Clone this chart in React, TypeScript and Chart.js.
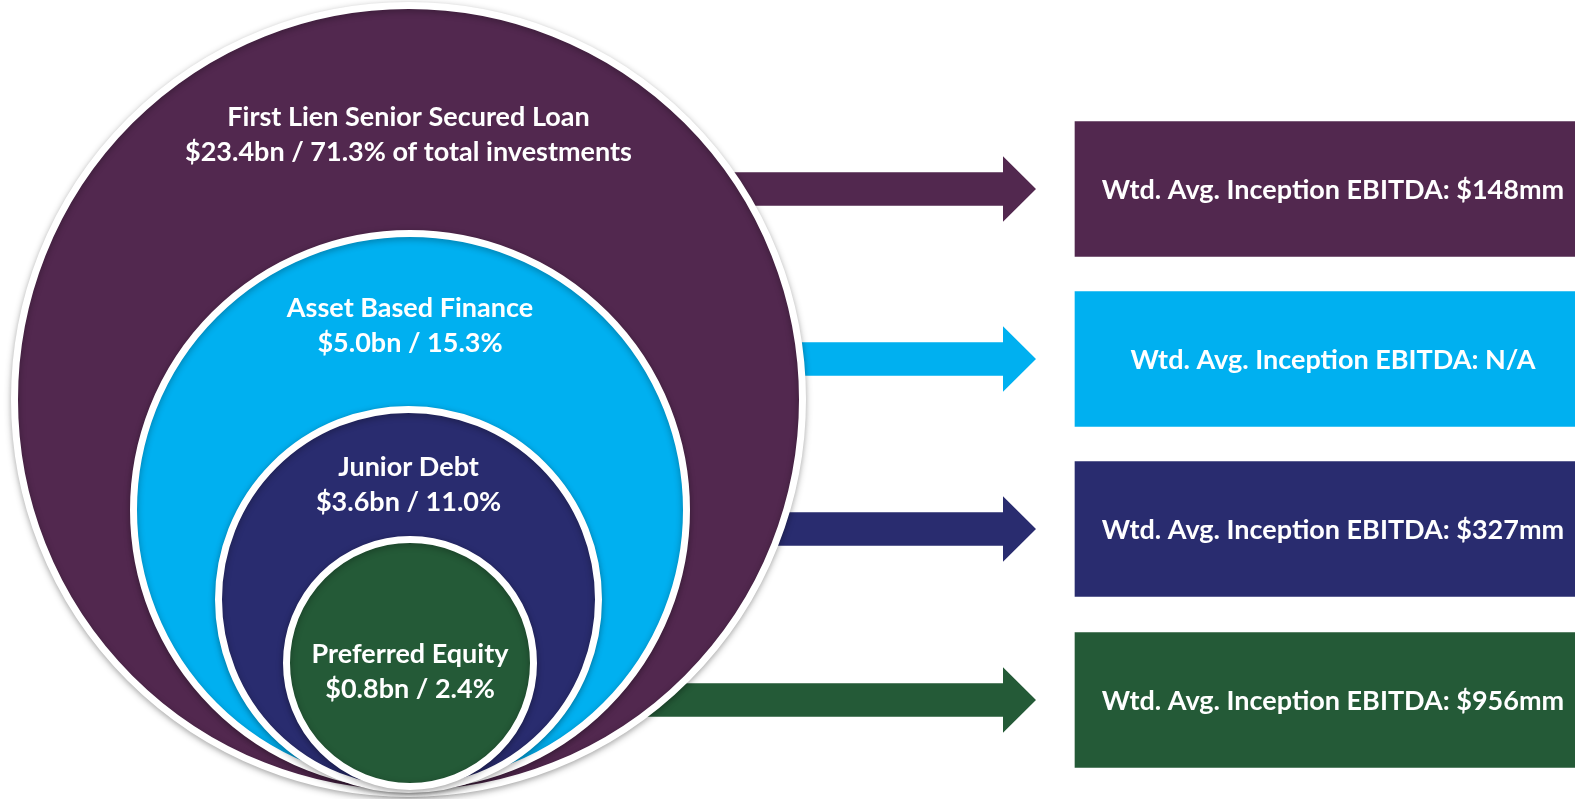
import React, { useEffect, useRef } from 'react';
import { Chart, registerables } from 'chart.js';

Chart.register(...registerables);

// ---- data ----
const CATEGORIES = ['First Lien Senior Secured Loan', 'Asset Based Finance', 'Junior Debt', 'Preferred Equity'];
const AMOUNT_BN = [23.4, 5.0, 3.6, 0.8];
const SHARE_PCT = [71.3, 15.3, 11.0, 2.4];
const SHARE_SUFFIX = [' of total investments', '', '', ''];
const EBITDA_MM: (number | null)[] = [148, null, 327, 956];
const EBITDA_PREFIX = 'Wtd. Avg. Inception EBITDA: ';
const COLORS = ['#52284F', '#00B0F0', '#292C6F', '#245A37'];

// ---- layout (chart units: x 0..1575 left→right, y 0..799 top→bottom) ----
const X_MAX = 1575;
const Y_MAX = 799;
const CIRCLE_CX = [408.5, 410, 408.5, 410];
const CIRCLE_CY = [399.5, 510, 599.5, 663];
const CIRCLE_R = [390.5, 273, 186.5, 120];
const CIRCLE_BORDER = 7;
const LABEL_BASELINE = [126, 316.7, 476, 663.3];
const LABEL_GAP = 35;
const ROW_Y = [189, 359, 529, 700];
const BOX_RANGE = [1075, 1591];
const BOX_H = 135;
const ARROW_START = 600;
const ARROW_HEAD_BASE = 1003;
const ARROW_TIP = 1036;
const ARROW_SHAFT_HALF = 16.7;
const ARROW_HEAD_HALF = 32.8;

const CIRCLE_FONT = 'bold 27px Lato';
const BOX_FONT = 'bold 27px Lato';

const amountLabel = (i: number) =>
  `$${AMOUNT_BN[i].toFixed(1)}bn / ${SHARE_PCT[i].toFixed(1)}%${SHARE_SUFFIX[i]}`;
const ebitdaLabel = (i: number) =>
  EBITDA_PREFIX + (EBITDA_MM[i] == null ? 'N/A' : `$${EBITDA_MM[i]}mm`);

const arrowsPlugin = {
  id: 'arrows',
  beforeDatasetsDraw(chart: any) {
    const { ctx, scales } = chart;
    const xs = scales.x;
    const ys = scales.y;
    ROW_Y.forEach((yv, i) => {
      const y0 = ys.getPixelForValue(yv);
      const sh = Math.abs(ys.getPixelForValue(yv + ARROW_SHAFT_HALF) - y0);
      const hh = Math.abs(ys.getPixelForValue(yv + ARROW_HEAD_HALF) - y0);
      const xs0 = xs.getPixelForValue(ARROW_START);
      const xb = xs.getPixelForValue(ARROW_HEAD_BASE);
      const xt = xs.getPixelForValue(ARROW_TIP);
      ctx.save();
      ctx.fillStyle = COLORS[i];
      ctx.beginPath();
      ctx.moveTo(xs0, y0 - sh);
      ctx.lineTo(xb, y0 - sh);
      ctx.lineTo(xb, y0 - hh);
      ctx.lineTo(xt, y0);
      ctx.lineTo(xb, y0 + hh);
      ctx.lineTo(xb, y0 + sh);
      ctx.lineTo(xs0, y0 + sh);
      ctx.closePath();
      ctx.fill();
      ctx.restore();
    });
  },
};

const shadowPlugin = {
  id: 'circleShadow',
  beforeDatasetDraw(chart: any, args: any) {
    if (args.meta.type !== 'bubble') return;
    const ctx = chart.ctx;
    ctx.save();
    ctx.shadowColor = 'rgba(0,0,0,0.30)';
    ctx.shadowBlur = 7;
    ctx.shadowOffsetX = 0;
    ctx.shadowOffsetY = 2;
  },
  afterDatasetDraw(chart: any, args: any) {
    if (args.meta.type !== 'bubble') return;
    chart.ctx.restore();
  },
};

const labelsPlugin = {
  id: 'labels',
  afterDatasetsDraw(chart: any) {
    const { ctx, scales } = chart;
    const xs = scales.x;
    const ys = scales.y;
    ctx.save();
    ctx.fillStyle = '#ffffff';
    ctx.textAlign = 'center';
    ctx.textBaseline = 'alphabetic';
    ctx.font = CIRCLE_FONT;
    CATEGORIES.forEach((name, i) => {
      const x = xs.getPixelForValue(CIRCLE_CX[i]);
      const y1 = ys.getPixelForValue(LABEL_BASELINE[i]);
      const y2 = ys.getPixelForValue(LABEL_BASELINE[i] + LABEL_GAP);
      ctx.fillText(name, x, y1);
      ctx.fillText(amountLabel(i), x, y2);
    });
    ctx.font = BOX_FONT;
    const cap = ctx.measureText('H').actualBoundingBoxAscent;
    ROW_Y.forEach((yv, i) => {
      const x = (xs.getPixelForValue(BOX_RANGE[0]) + xs.getPixelForValue(BOX_RANGE[1])) / 2;
      const y = ys.getPixelForValue(yv) + cap / 2;
      ctx.fillText(ebitdaLabel(i), x, y);
    });
    ctx.restore();
  },
};

// circle radius in pixels, converted from chart units through the x scale
const circleRadius = (c: any) => {
  const i = c.dataIndex;
  const s = c.chart.scales && c.chart.scales.x;
  let px = NaN;
  if (s) px = Math.abs(s.getPixelForValue(CIRCLE_CX[i] + CIRCLE_R[i]) - s.getPixelForValue(CIRCLE_CX[i]));
  if (!isFinite(px)) px = (CIRCLE_R[i] * c.chart.width) / X_MAX;
  return px + CIRCLE_BORDER / 2;
};

export default function App() {
  const canvasRef = useRef<HTMLCanvasElement | null>(null);

  useEffect(() => {
    const canvas = canvasRef.current;
    if (!canvas) return;
    const chart = new Chart(canvas, {
      type: 'bubble',
      data: {
        datasets: [
          {
            type: 'bar',
            indexAxis: 'y',
            data: ROW_Y.map((y) => ({ x: BOX_RANGE, y })),
            backgroundColor: COLORS,
            borderWidth: 0,
            barThickness: BOX_H,
          } as any,
          {
            type: 'bubble',
            data: CIRCLE_CX.map((x, i) => ({ x, y: CIRCLE_CY[i] })),
            backgroundColor: COLORS,
            borderColor: '#ffffff',
            borderWidth: CIRCLE_BORDER,
            hoverBorderWidth: CIRCLE_BORDER,
            clip: false,
            radius: circleRadius,
          } as any,
        ],
      },
      options: {
        responsive: false,
        animation: false,
        events: [],
        layout: { padding: 0, autoPadding: false },
        plugins: {
          legend: { display: false },
          tooltip: { enabled: false },
          title: { display: false },
        },
        scales: {
          x: { type: 'linear', min: 0, max: X_MAX, display: false, offset: false },
          y: { type: 'linear', min: 0, max: Y_MAX, reverse: true, display: false, offset: false },
        },
      },
      plugins: [arrowsPlugin, shadowPlugin, labelsPlugin],
    });
    chart.update();
    return () => chart.destroy();
  }, []);

  return (
    <div style={{ position: 'absolute', left: 0, top: 0, width: X_MAX, height: Y_MAX, background: '#ffffff' }}>
      <canvas ref={canvasRef} width={X_MAX} height={Y_MAX} style={{ display: 'block' }} />
    </div>
  );
}
